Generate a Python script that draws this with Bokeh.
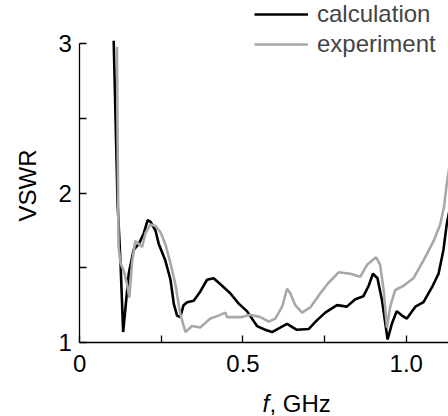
from bokeh.plotting import figure
from bokeh.models import Range1d, FixedTicker, Legend, LegendItem, Label
from bokeh.embed import file_html
from bokeh.resources import INLINE

f_calc = [0.104, 0.116, 0.125, 0.133, 0.150, 0.165, 0.181, 0.196, 0.208, 0.216, 0.232, 0.242,
          0.262, 0.278, 0.288, 0.298, 0.308, 0.318, 0.329, 0.349, 0.369, 0.390, 0.410, 0.431,
          0.461, 0.487, 0.512, 0.543, 0.568, 0.589, 0.614, 0.635, 0.665, 0.701, 0.727, 0.752,
          0.788, 0.818, 0.844, 0.869, 0.885, 0.898, 0.912, 0.926, 0.943, 0.956, 0.971, 0.987,
          1.002, 1.028, 1.053, 1.079, 1.099, 1.114, 1.124, 1.132]
vswr_calc = [3.02, 1.93, 1.53, 1.07, 1.46, 1.62, 1.66, 1.73, 1.82, 1.81, 1.75, 1.66,
             1.55, 1.42, 1.26, 1.18, 1.17, 1.25, 1.27, 1.28, 1.34, 1.42, 1.43, 1.39,
             1.33, 1.26, 1.21, 1.11, 1.085, 1.07, 1.10, 1.125, 1.085, 1.09, 1.15, 1.20,
             1.25, 1.24, 1.29, 1.31, 1.38, 1.46, 1.43, 1.28, 1.02, 1.125, 1.21, 1.18,
             1.16, 1.24, 1.27, 1.37, 1.46, 1.62, 1.79, 1.88]

f_exp = [0.114, 0.116, 0.119, 0.125, 0.135, 0.145, 0.152, 0.160, 0.170, 0.181, 0.191, 0.201,
         0.216, 0.232, 0.247, 0.262, 0.278, 0.293, 0.308, 0.324, 0.344, 0.369, 0.400, 0.425,
         0.446, 0.451, 0.497, 0.522, 0.553, 0.579, 0.599, 0.620, 0.635, 0.645, 0.660, 0.681,
         0.706, 0.737, 0.762, 0.793, 0.829, 0.859, 0.880, 0.908, 0.920, 0.931, 0.941, 0.951,
         0.966, 0.992, 1.022, 1.053, 1.084, 1.104, 1.116, 1.124, 1.132]
vswr_exp = [2.98, 2.35, 1.64, 1.53, 1.48, 1.39, 1.30, 1.53, 1.68, 1.66, 1.64, 1.73,
            1.79, 1.78, 1.74, 1.66, 1.53, 1.39, 1.19, 1.07, 1.11, 1.10, 1.16, 1.18,
            1.20, 1.17, 1.17, 1.185, 1.17, 1.14, 1.16, 1.24, 1.36, 1.33, 1.25, 1.20,
            1.235, 1.33, 1.40, 1.47, 1.46, 1.44, 1.52, 1.57, 1.52, 1.35, 1.10, 1.24,
            1.35, 1.38, 1.43, 1.55, 1.68, 1.79, 1.91, 2.06, 2.17]

x_ticks = [0, 0.5, 1.0]
x_tick_labels = ["0", "0.5", "1.0"]
x_minor = [0.25, 0.75]
y_ticks = [1, 2, 3]
y_tick_labels = ["1", "2", "3"]
y_minor = [1.5, 2.5]
series_names = ["calculation", "experiment"]

FONT = "Liberation Sans"
FS = "24px"

# frame fills the whole canvas; axes are drawn at fixed data locations
p = figure(width=448, height=416, output_backend="svg", toolbar_location=None,
           x_range=Range1d(-0.2427, 1.1295), y_range=Range1d(0.5044, 3.29),
           min_border_left=0, min_border_bottom=0, min_border_top=0, min_border_right=0)
p.outline_line_color = None
p.xgrid.visible = False
p.ygrid.visible = False
p.background_fill_color = "white"
p.border_fill_color = "white"

r_calc = p.line(f_calc, vswr_calc, line_color="black", line_width=2.6)
r_exp = p.line(f_exp, vswr_exp, line_color="#a8a8a8", line_width=2.6)

for ax, ticks, labels, minor in ((p.xaxis[0], x_ticks, x_tick_labels, x_minor),
                                  (p.yaxis[0], y_ticks, y_tick_labels, y_minor)):
    ax.ticker = FixedTicker(ticks=ticks, minor_ticks=minor)
    ax.major_label_overrides = {t: l for t, l in zip(ticks, labels)}
    ax.major_tick_in = 7
    ax.major_tick_out = 0
    ax.minor_tick_in = 7
    ax.minor_tick_out = 0
    ax.major_tick_line_color = "black"
    ax.minor_tick_line_color = "black"
    ax.axis_line_color = "black"
    ax.axis_line_width = 1.3
    ax.major_tick_line_width = 1.3
    ax.minor_tick_line_width = 1.3
    ax.major_label_text_font = FONT
    ax.major_label_text_font_size = FS
    ax.major_label_text_color = "black"

p.xaxis[0].fixed_location = y_ticks[0]
p.yaxis[0].fixed_location = x_ticks[0]
p.xaxis[0].bounds = (x_ticks[0], 1.1295)
p.yaxis[0].bounds = (y_ticks[0], y_ticks[-1])
p.yaxis[0].major_label_standoff = 8
p.xaxis[0].major_label_standoff = 13

p.add_layout(Label(x=27, y=231, x_units="screen", y_units="screen", text="VSWR",
                   angle=1.5708, text_align="center", text_baseline="middle",
                   text_font=FONT, text_font_size=FS, text_color="black"))
p.add_layout(Label(x=262, y=13, x_units="screen", y_units="screen", text="f",
                   text_font=FONT, text_font_size=FS, text_font_style="italic",
                   text_color="black", text_baseline="alphabetic"))
p.add_layout(Label(x=269, y=13, x_units="screen", y_units="screen", text=", GHz",
                   text_font=FONT, text_font_size=FS, text_color="black",
                   text_baseline="alphabetic"))

legend = Legend(items=[LegendItem(label=series_names[0], renderers=[r_calc]),
                       LegendItem(label=series_names[1], renderers=[r_exp])],
                location=(254, 358), padding=0, margin=0, spacing=2,
                glyph_width=54, label_standoff=9,
                label_text_font=FONT, label_text_font_size=FS,
                border_line_color=None, background_fill_alpha=0)
p.add_layout(legend)

open("out.html", "w").write(file_html(p, INLINE))
